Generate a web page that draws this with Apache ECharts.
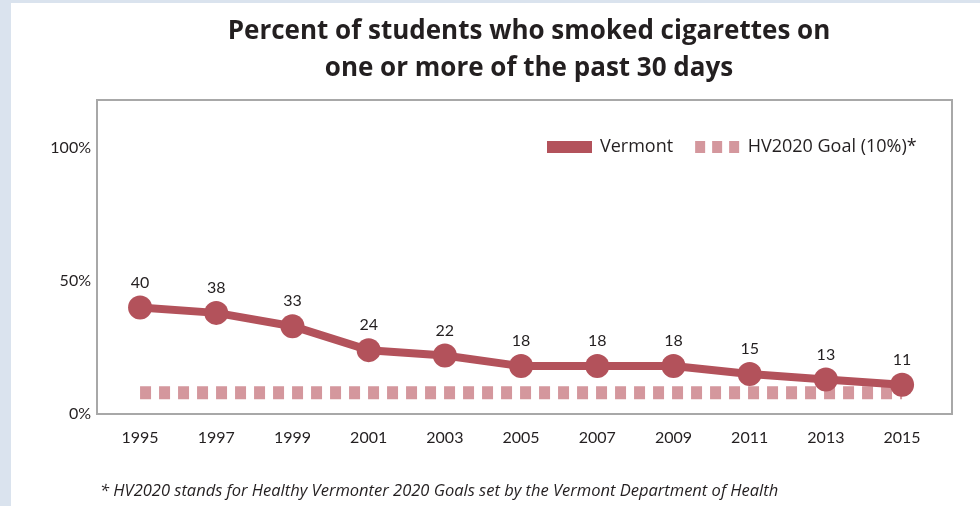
<!DOCTYPE html>
<html>
<head>
<meta charset="utf-8">
<script src="https://cdn.jsdelivr.net/npm/echarts@6/dist/echarts.min.js"></script>
<style>
  html, body { margin: 0; padding: 0; background: #dae3ee; }
  #panel { position: absolute; left: 11px; top: 3px; width: 969px; height: 503px; background: #ffffff; }
  #chart { position: absolute; left: 0; top: 0; width: 980px; height: 506px; }
</style>
</head>
<body>
<div id="panel"></div>
<div id="chart"></div>
<script>
const years = [1995, 1997, 1999, 2001, 2003, 2005, 2007, 2009, 2011, 2013, 2015];
const vermont = [40, 38, 33, 24, 22, 18, 18, 18, 15, 13, 11];
const goalValue = 8;
const yTicks = [0, 50, 100];
const seriesNames = ['Vermont', 'HV2020 Goal (10%)*'];
const titleText = 'Percent of students who smoked cigarettes on\none or more of the past 30 days';
const footnote = '* HV2020 stands for Healthy Vermonter 2020 Goals set by the Vermont Department of Health';

const FONT = 'Lato, "Open Sans", sans-serif';
const FONT2 = '"Open Sans", Lato, sans-serif';
const TEXT = '#231f20';
const RED = '#b3525b';
const PINK = '#d4979d';

const chart = echarts.init(document.getElementById('chart'), null, { renderer: 'canvas' });
chart.setOption({
  backgroundColor: 'transparent',
  animation: false,
  textStyle: { fontFamily: FONT, color: TEXT },
  title: [
    {
      text: titleText,
      left: 524, top: 8, textAlign: 'center',
      textStyle: { fontFamily: FONT2, fontSize: 26, fontWeight: 'bold', color: TEXT, lineHeight: 37 }
    },
    {
      text: footnote,
      left: 95, top: 478,
      textStyle: { fontFamily: FONT2, fontSize: 16.5, fontStyle: 'italic', fontWeight: 'normal', color: TEXT }
    }
  ],
  legend: {
    left: 547, top: 138, padding: 0,
    itemWidth: 45, itemHeight: 12, itemGap: 22,
    textStyle: { fontFamily: FONT2, fontSize: 18, color: TEXT, padding: [0, 0, 0, 3] },
    data: [
      { name: seriesNames[0], icon: 'rect' },
      { name: seriesNames[1], icon: 'path://M0,0h10v12h-10z M17,0h10v12h-10z M34,0h10v12h-10z' }
    ]
  },
  grid: {
    left: 97, right: 28, top: 100, bottom: 92,
    show: true, borderColor: '#a8a8a8', borderWidth: 2, backgroundColor: 'transparent'
  },
  xAxis: {
    type: 'value',
    min: 1993.87, max: 2016.31,
    axisLine: { show: false }, axisTick: { show: false }, splitLine: { show: false },
    axisLabel: {
      customValues: years,
      formatter: v => String(v),
      fontFamily: FONT, fontSize: 16, color: TEXT, margin: 16
    }
  },
  yAxis: {
    type: 'value',
    min: 0, max: 118, interval: 50,
    axisLine: { show: false }, axisTick: { show: false }, splitLine: { show: false },
    axisLabel: {
      customValues: yTicks,
      formatter: v => v + '%',
      fontFamily: FONT, fontSize: 16, color: TEXT, margin: 6
    }
  },
  series: [
    {
      name: seriesNames[1],
      type: 'line',
      data: years.map(y => [y, goalValue]),
      symbol: 'none',
      silent: true,
      z: 1,
      itemStyle: { color: PINK },
      lineStyle: { color: PINK, width: 13, type: [11, 8], cap: 'butt' }
    },
    {
      name: seriesNames[0],
      type: 'line',
      data: years.map((y, i) => [y, vermont[i]]),
      symbol: 'circle', symbolSize: 24,
      z: 3,
      itemStyle: { color: RED, borderWidth: 0 },
      lineStyle: { color: RED, width: 8 },
      label: {
        show: true, position: 'top', distance: 5,
        fontFamily: FONT, fontSize: 16, color: TEXT
      }
    }
  ]
});
</script>
</body>
</html>
